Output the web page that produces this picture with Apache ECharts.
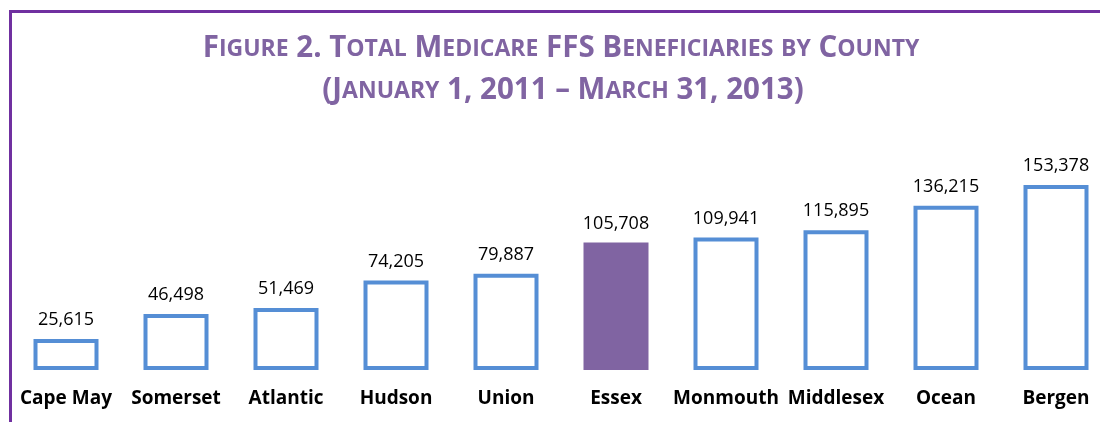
<!DOCTYPE html>
<html>
<head>
<meta charset="utf-8">
<script src="https://cdn.jsdelivr.net/npm/echarts@6/dist/echarts.min.js"></script>
<style>
    html, body { margin: 0; padding: 0; background: #fff; }
    #chart { width: 1100px; height: 422px; }
</style>
</head>
<body>
<div id="chart"></div>
<script>
/*global echarts*/
const counties = ['Cape May', 'Somerset', 'Atlantic', 'Hudson', 'Union', 'Essex', 'Monmouth', 'Middlesex', 'Ocean', 'Bergen'];
const beneficiaries = [25615, 46498, 51469, 74205, 79887, 105708, 109941, 115895, 136215, 153378];
const highlightCounty = 'Essex';
const titleLines = ['Figure 2. Total Medicare FFS Beneficiaries by County', '(January 1, 2011 \u2013 March 31, 2013)'];

const PURPLE = '#8064A2';
const BLUE = '#558ED5';

// fake small caps: lowercase runs become smaller uppercase
const smallCaps = (text) => {
    const parts = [];
    let cur = '';
    let curSmall = null;
    for (const ch of text) {
        const isSmall = ch !== ch.toUpperCase();
        if (curSmall !== null && isSmall !== curSmall) {
            parts.push(`{${curSmall ? 's' : 'b'}|${cur}}`);
            cur = '';
        }
        curSmall = isSmall;
        cur += isSmall ? ch.toUpperCase() : ch;
    }
    if (cur) parts.push(`{${curSmall ? 's' : 'b'}|${cur}}`);
    return parts.join('');
};

const fmt = (v) => v.toLocaleString('en-US');

const getSeriesData = () => beneficiaries.map((v, i) => {
    const isHi = counties[i] === highlightCounty;
    return {
        value: v,
        itemStyle: isHi ? {
            color: PURPLE,
            borderWidth: 0
        } : {
            color: '#fff',
            borderColor: BLUE,
            borderWidth: 4
        }
    };
});

const titleRich = {
    b: { fontFamily: 'Open Sans', fontWeight: 'bold', fontSize: 29.5, color: PURPLE },
    s: { fontFamily: 'Open Sans', fontWeight: 'bold', fontSize: 23, color: PURPLE }
};

const option = {
    backgroundColor: '#fff',
    animation: false,
    title: [{
        text: smallCaps(titleLines[0]),
        left: 556,
        top: 29,
        textAlign: 'center',
        textStyle: { rich: titleRich }
    }, {
        text: smallCaps(titleLines[1]),
        left: 558,
        top: 71,
        textAlign: 'center',
        textStyle: { rich: titleRich }
    }],
    graphic: [{
        type: 'line',
        shape: { x1: 9, y1: 11.5, x2: 1100, y2: 11.5 },
        style: { stroke: '#7030A0', lineWidth: 3 }
    }, {
        type: 'line',
        shape: { x1: 10.5, y1: 10, x2: 10.5, y2: 422 },
        style: { stroke: '#7030A0', lineWidth: 3 }
    }],
    grid: {
        left: 66,
        right: 44,
        top: 177,
        bottom: 52,
        containLabel: false
    },
    xAxis: {
        type: 'category',
        data: counties,
        boundaryGap: false,
        axisLine: { show: false },
        axisTick: { show: false },
        axisLabel: {
            interval: 0,
            margin: 19,
            fontFamily: 'Open Sans',
            fontWeight: 'bold',
            fontSize: 19,
            color: '#000'
        }
    },
    yAxis: {
        type: 'value',
        min: 0,
        max: 160000,
        show: false
    },
    series: [{
        type: 'bar',
        data: getSeriesData(),
        barWidth: 65,
        label: {
            show: true,
            position: 'top',
            distance: 10,
            formatter: (p) => fmt(p.value),
            fontFamily: 'Open Sans',
            fontSize: 18,
            color: '#000'
        }
    }]
};

const myChart = echarts.init(document.getElementById('chart'));
myChart.setOption(option);
</script>
</body>
</html>
